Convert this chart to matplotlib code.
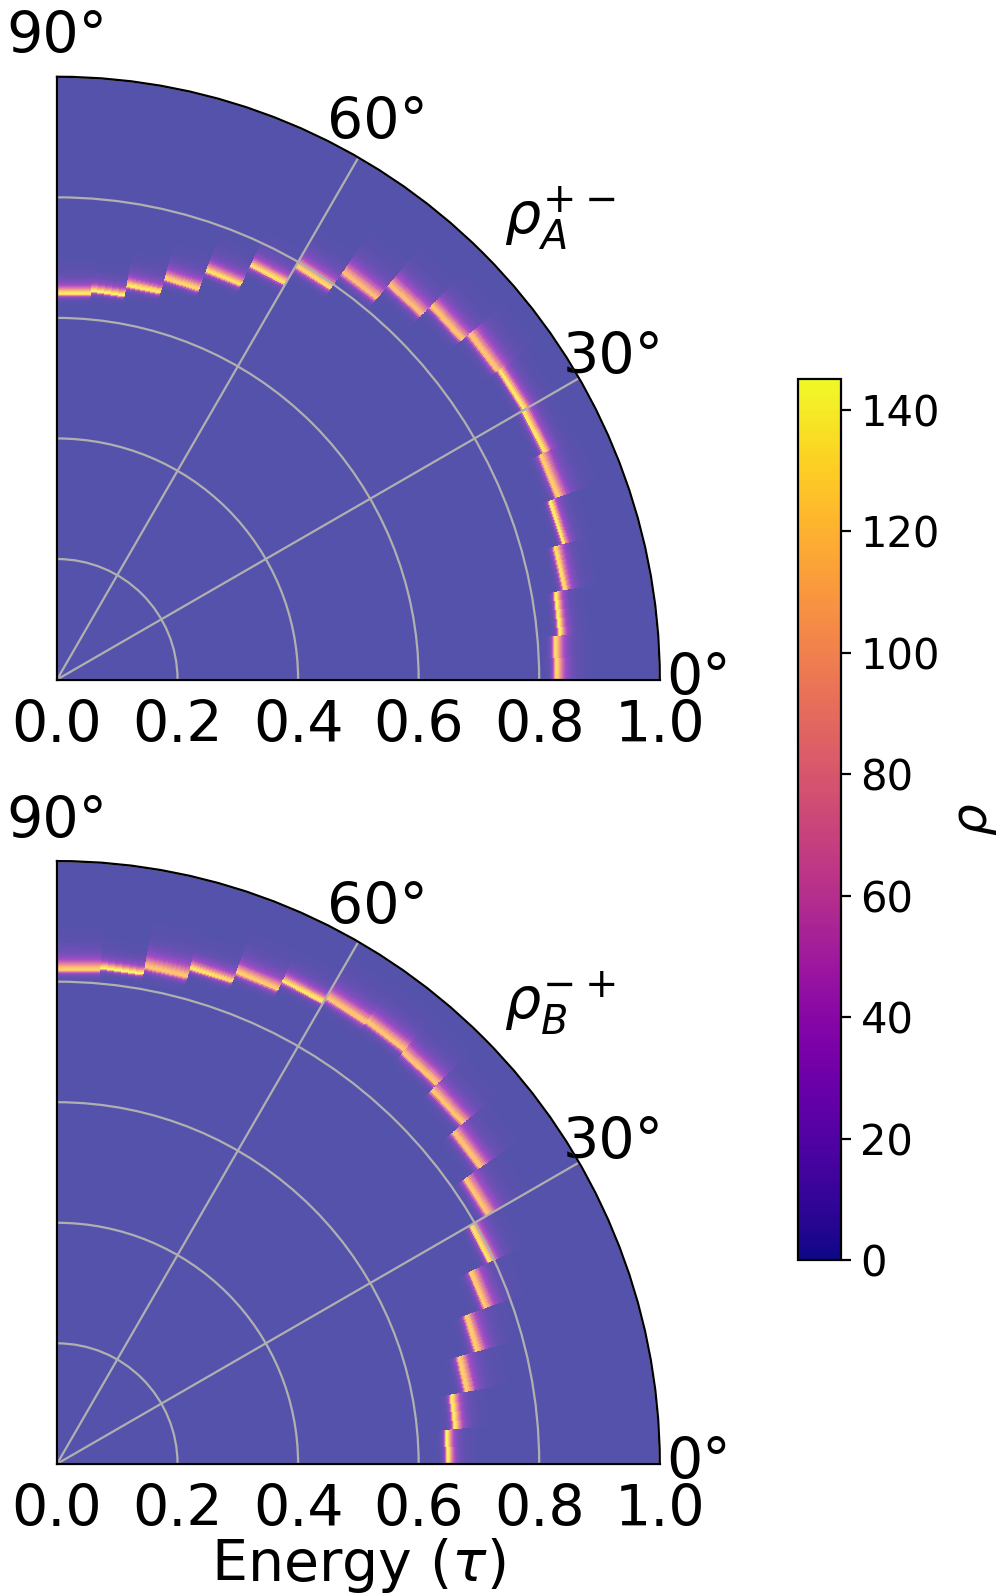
import numpy as np
import matplotlib
matplotlib.use("Agg")
import matplotlib.pyplot as plt
from matplotlib.colors import Normalize, ListedColormap
from matplotlib.cm import ScalarMappable

# angular sectors (degrees), 5 deg each
theta_edges = np.arange(0, 95, 5)

# peak energy in each sector (centres 2.5 .. 87.5 deg)
peak_A = [0.830, 0.839, 0.855, 0.870, 0.885, 0.893, 0.896, 0.893, 0.878,
          0.857, 0.826, 0.793, 0.759, 0.723, 0.690, 0.665, 0.648, 0.642]
peak_B = [0.649, 0.664, 0.690, 0.722, 0.757, 0.793, 0.826, 0.858, 0.879,
          0.892, 0.897, 0.894, 0.885, 0.869, 0.852, 0.838, 0.826, 0.822]

# peak heights (rho)
height_A = [130, 145, 135, 145, 125, 140, 140, 120, 120,
            115, 115, 130, 135, 135, 130, 140, 145, 140]
height_B = [145, 140, 125, 125, 125, 135, 120, 120, 120,
            120, 120, 120, 140, 125, 140, 120, 145, 125]

# inner half width of each peak
width_A = [0.0055, 0.0042, 0.0050, 0.0042, 0.0063, 0.0050, 0.0050, 0.0070, 0.0070,
           0.0075, 0.0075, 0.0063, 0.0055, 0.0055, 0.0055, 0.0050, 0.0042, 0.0050]
width_B = [0.0042, 0.0050, 0.0063, 0.0063, 0.0063, 0.0055, 0.0070, 0.0070, 0.0070,
           0.0070, 0.0070, 0.0070, 0.0050, 0.0063, 0.0050, 0.0070, 0.0042, 0.0063]

labels = [r'$\rho_A^{+-}$', r'$\rho_B^{-+}$']
rho_max = 145

r_edges = np.linspace(0, 1, 601)
r_mid = 0.5 * (r_edges[1:] + r_edges[:-1])


def density(peaks, heights, widths):
    rho = np.zeros((len(peaks), len(r_mid)))
    for i in range(len(peaks)):
        x_in = (r_mid - peaks[i]) / widths[i]
        x_out = (r_mid - peaks[i]) / (3.0 * widths[i])
        inner = heights[i] / (1 + x_in ** 2) ** 2
        outer = heights[i] / (1 + x_out ** 2) ** 2
        rho[i] = np.where(r_mid < peaks[i], inner, outer)
    return rho


# plasma seen through alpha=0.7 on white (avoids seams of a transparent mesh)
base = plt.get_cmap('plasma')(np.linspace(0, 1, 256))
faded = base.copy()
faded[:, :3] = 0.7 * base[:, :3] + 0.3
faded_cmap = ListedColormap(faded)

norm = Normalize(0, rho_max)
fig = plt.figure(figsize=(5.015, 7.965), dpi=200)
ax1 = fig.add_axes([0.0568, 0.5731, 0.601, 0.379], projection='polar')
ax2 = fig.add_axes([0.0568, 0.081, 0.601, 0.3785], projection='polar')

T, R = np.meshgrid(np.radians(theta_edges), r_edges, indexing='ij')
for ax, pk, h, w, lab in [(ax1, peak_A, height_A, width_A, labels[0]),
                          (ax2, peak_B, height_B, width_B, labels[1])]:
    ax.pcolormesh(T, R, density(pk, h, w), cmap=faded_cmap, norm=norm)
    ax.set_thetamin(0)
    ax.set_thetamax(90)
    ax.set_rlim(0, 1)
    ax.set_rticks([0, 0.2, 0.4, 0.6, 0.8, 1.0])
    ax.set_thetagrids([0, 30, 60, 90])
    ax.tick_params(labelsize=20.5)
    ax.grid(True)
    ax.text(0.834, 0.765, lab, transform=ax.transAxes, fontsize=20.5,
            ha='center', va='center')

ax2.set_xlabel(r'Energy ($\tau$)', fontsize=20.5, labelpad=16)

cax = fig.add_axes([0.7956, 0.209, 0.0429, 0.553])
cb = fig.colorbar(ScalarMappable(norm=norm, cmap='plasma'), cax=cax)
cb.set_ticks(range(0, 141, 20))
cb.ax.tick_params(labelsize=15)
cb.set_label(r'$\rho$', fontsize=18)

fig.savefig('out.png', dpi=200)
